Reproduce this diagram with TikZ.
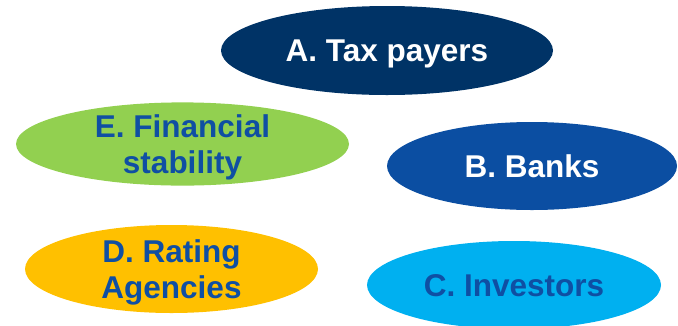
\documentclass[tikz,border=0pt]{standalone}
\usepackage{fontspec}
\setmainfont{Liberation Sans}
\usetikzlibrary{shapes.geometric}
\definecolor{navy}{HTML}{003366}
\definecolor{bankblue}{HTML}{0B4EA2}
\definecolor{leafgreen}{HTML}{92D050}
\definecolor{gold}{HTML}{FFC000}
\definecolor{skyblue}{HTML}{00B0F0}
\definecolor{textblue}{HTML}{0F4FA3}
\begin{document}
	\begin{tikzpicture}
		[x=1pt,y=-1pt,
		actor/.style={ellipse,inner sep=0pt,align=center,text depth=0pt,
			font=\bfseries\fontsize{31.5}{36}\selectfont},
		dark/.style={actor,text=white},
		light/.style={actor,text=textblue}]
		\useasboundingbox (0,0) rectangle (678,325);
		\clip (0,0) rectangle (678,325);
		\node[dark,fill=navy,minimum width=332pt,minimum height=89pt]
			(taxpayers) at (387,50.5) {A. Tax payers};
		\node[light,fill=leafgreen,minimum width=333pt,minimum height=82pt]
			(stability) at (182.5,144) {E. Financial\\stability};
		\node[dark,fill=bankblue,minimum width=290pt,minimum height=88pt]
			(banks) at (532,166) {B. Banks};
		\node[light,fill=gold,minimum width=293pt,minimum height=88pt]
			(rating) at (171.5,269) {D. Rating\\Agencies};
		\node[light,fill=skyblue,minimum width=294pt,minimum height=88pt]
			(investors) at (514,285) {C. Investors};
	\end{tikzpicture}
\end{document}
